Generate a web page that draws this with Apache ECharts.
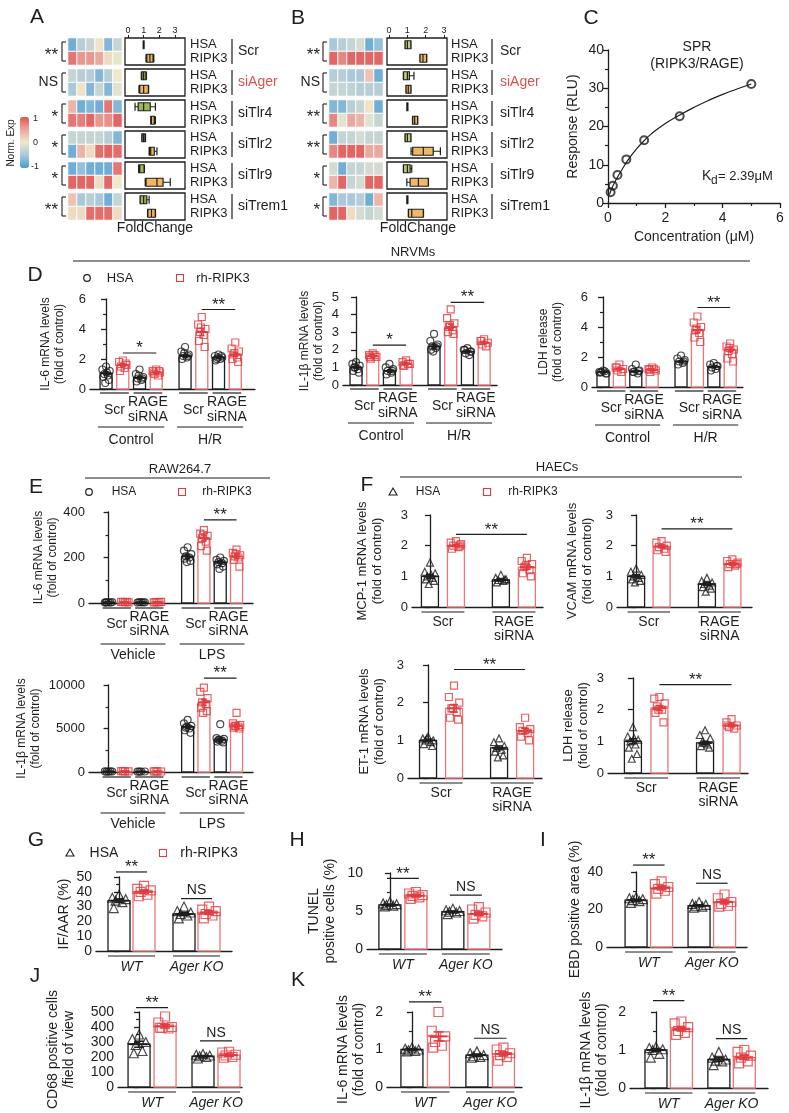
<!DOCTYPE html>
<html><head><meta charset="utf-8">
<script src="https://cdn.jsdelivr.net/npm/echarts/dist/echarts.min.js"></script>
<style>html,body{margin:0;padding:0;background:#fff}#c{width:789px;height:1113px}</style>
</head><body><div id="c"></div>
<script>
const FONT = '"Liberation Sans", Arial, Helvetica, sans-serif';
const INK = '#1e1e1e', RED = '#e23b3f', REDBAR = '#e8777a';

// ---------- Panels A / B ----------
const heatGroups = ['Scr','siAger','siTlr4','siTlr2','siTlr9','siTrem1'];
const heatRowNames = ['HSA','RIPK3'];
const heatCols = ['1','2','3','4','5','6'];
const heatA = [
 [-0.8,-0.4,-0.3,0.05,-0.7,-0.3],[0.8,0.6,0.6,0.5,0.1,-0.05],
 [-0.3,-0.4,-0.4,-0.7,-0.4,0.0],[-0.5,0.05,-0.7,-0.3,-0.7,-0.1],
 [0.4,-0.8,-0.7,-0.8,0.8,-0.7],[0.8,0.75,0.9,0.6,0.65,0.9],
 [-0.3,-0.3,-0.3,-0.3,-0.4,-0.7],[-0.8,0.4,0.1,0.85,0.9,0.85],
 [-0.8,-0.6,-0.8,-0.8,-0.8,0.8],[0.9,0.9,0.9,0.1,0.9,0.0],
 [0.3,-0.5,-0.4,-0.5,-0.8,-0.3],[0.1,0.1,0.85,0.85,0.85,0.1]
];
const heatB = [
 [-0.5,-0.4,-0.3,-0.2,-0.8,-0.6],[0.9,0.7,0.9,0.9,0.9,0.9],
 [-0.4,-0.4,-0.5,-0.5,0.3,-0.8],[-0.3,-0.3,-0.35,-0.4,-0.4,-0.4],
 [-0.7,-0.7,-0.4,-0.3,0.05,-0.8],[0.7,-0.1,0.5,0.4,-0.1,-0.3],
 [-0.8,-0.3,-0.3,-0.2,-0.3,-0.3],[0.7,0.9,0.9,0.9,0.5,0.5],
 [-0.2,-0.8,-0.3,-0.3,-0.2,-0.2],[0.4,0.9,-0.3,-0.2,0.9,0.9],
 [-0.7,-0.5,-0.5,-0.4,-0.8,0.4],[0.9,0.9,0.1,-0.2,-0.3,-0.2]
];
const sigA = ['**','NS','*','*','*','**'];
const sigB = ['**','NS','**','**','*','*'];
const boxA = [
 [[0.97,0.98,1.0,1.02,1.03],[1.15,1.2,1.4,1.6,1.65]],
 [[0.85,0.88,1.0,1.15,1.18],[0.7,0.75,1.0,1.3,1.32]],
 [[0.45,0.65,1.0,1.42,1.75],[1.45,1.47,1.5,1.68,1.75]],
 [[0.88,0.9,1.0,1.1,1.12],[1.35,1.37,1.45,1.68,1.85]],
 [[0.68,0.7,0.75,1.03,1.05],[1.1,1.15,1.85,2.24,2.7]],
 [[0.77,0.78,1.0,1.2,1.35],[1.25,1.27,1.5,1.74,1.76]]
];
const boxB = [
 [[0.87,0.88,1.0,1.19,1.2],[1.68,1.69,1.85,2.05,2.06]],
 [[0.78,0.79,1.0,1.11,1.36],[0.92,0.93,1.05,1.19,1.2]],
 [[0.97,0.98,1.0,1.02,1.03],[1.28,1.29,1.4,1.56,1.57]],
 [[0.87,0.88,1.0,1.19,1.2],[1.2,1.29,1.87,2.41,2.8]],
 [[0.78,0.79,1.0,1.15,1.24],[0.97,1.15,1.6,2.14,2.15]],
 [[0.97,0.98,1.0,1.02,1.03],[1.05,1.06,1.24,1.87,1.88]]
];
const foldTicks = [0,1,2,3];

// ---------- Panel C ----------
const sprConc = [0.09,0.17,0.33,0.64,1.26,2.5,5.0];
const sprResp = [2.8,4.5,7.3,11.4,16.4,22.7,31.1];
const fitConc = [0.05,0.1,0.2,0.35,0.5,0.75,1.0,1.25,1.5,2.0,2.5,3.0,3.5,4.0,4.5,5.0];
const fitResp = [2.2,3.2,4.9,7.0,8.9,11.8,14.2,16.2,18.0,20.8,23.0,25.0,26.8,28.4,29.8,31.1];

// ---------- Panel D (NRVMs) ----------
const D1_mean = [1.05,1.6,0.75,1.1,2.2,3.8,2.1,2.3];
const D1_sem  = [0.1,0.1,0.08,0.05,0.08,0.25,0.05,0.12];
const D1_pts = [[1.5,1.3,1.2,1.0,0.9,0.8,0.6,0.4,1.1],[1.9,1.8,1.6,1.5,1.4,1.2,1.7],[1.3,1.0,0.8,0.7,0.6,0.5,0.7,0.9],[1.3,1.2,1.1,1.0,0.9,1.1,1.2],
 [2.8,2.5,2.3,2.2,2.1,2.0,2.2,2.4],[4.8,4.3,4.0,3.8,3.6,3.2,2.8,4.1],[2.3,2.2,2.1,2.0,2.0,1.9,2.2,2.1],[3.1,2.7,2.5,2.3,2.1,2.0,1.8,2.4]];
const D2_mean = [1.0,1.65,0.8,1.2,2.2,3.3,1.9,2.4];
const D2_sem  = [0.06,0.06,0.06,0.05,0.1,0.15,0.06,0.06];
const D2_pts = [[1.3,1.2,1.1,1.0,0.9,0.8,0.7,1.0],[1.8,1.7,1.6,1.5,1.7,1.6],[1.2,1.0,0.9,0.8,0.7,0.6,0.8],[1.4,1.3,1.2,1.1,1.2,1.1],
 [2.9,2.5,2.3,2.2,2.1,2.0,2.2,1.9],[4.3,3.8,3.5,3.3,3.1,3.0,2.9,3.4],[2.1,2.0,1.9,1.8,1.7,2.0,1.9],[2.6,2.5,2.4,2.3,2.2,2.5]];
const D3_mean = [1.0,1.2,1.05,1.15,1.7,3.8,1.35,2.5];
const D3_sem  = [0.03,0.06,0.05,0.04,0.06,0.2,0.05,0.15];
const D3_pts = [[1.1,1.0,0.9,1.0,1.05,0.95,0.9],[1.5,1.3,1.2,1.1,1.0,1.3],[1.5,1.2,1.1,1.0,0.9,1.0,1.05],[1.3,1.2,1.1,1.0,1.2,1.15],
 [2.1,1.9,1.8,1.7,1.6,1.5,1.7],[4.7,4.3,4.0,3.8,3.6,3.3,3.0,3.9],[1.6,1.5,1.4,1.3,1.2,1.1,1.4],[2.9,2.7,2.5,2.4,2.2,1.9,1.7,2.6]];

// ---------- Panel E (RAW264.7) ----------
const E1_mean = [3,4,3,4,205,285,180,205];
const E1_sem  = [0.3,0.3,0.3,0.3,8,12,6,9];
const E1_pts = [[3,2,4,3,2,3],[4,5,3,4,5],[3,2,3,4,3],[4,3,5,4,4],
 [245,230,215,205,200,195,185,180],[320,305,295,285,270,250,230,300],[200,190,185,180,175,170,160,150],[235,220,210,205,200,190,160,215]];
const E2_mean = [60,80,50,70,5200,8000,3700,5300];
const E2_sem  = [5,5,5,5,180,350,200,180];
const E2_pts = [[50,70,60,40,80],[80,100,70,90],[50,40,60,50],[70,80,60,70],
 [6000,5600,5300,5100,5000,4800,4500,5200],[9700,9200,8500,8000,7800,7400,7000,6800],[5500,3900,3800,3700,3600,3500,3400,3700],[6800,5600,5400,5300,5200,5100,5000,5300]];

// ---------- Panel F (HAECs) ----------
const F1_mean = [1.0,2.0,0.88,1.3], F1_sem = [0.06,0.03,0.03,0.07];
const F1_pts = [[1.45,1.15,1.1,1.0,0.95,0.9,0.85,0.75,1.05],[2.15,2.1,2.05,2.0,1.95,1.9,2.0],[1.05,0.95,0.9,0.88,0.85,0.8,0.9],[1.6,1.5,1.4,1.3,1.2,1.1,1.0,1.35]];
const F2_mean = [1.0,1.97,0.75,1.4], F2_sem = [0.05,0.04,0.05,0.04];
const F2_pts = [[1.25,1.15,1.05,1.0,0.95,0.9,0.85,0.8],[2.15,2.1,2.0,1.95,1.9,1.85,1.8],[0.95,0.85,0.8,0.75,0.7,0.65,0.6,0.5],[1.55,1.5,1.45,1.4,1.35,1.3,1.4]];
const F3_mean = [1.0,1.85,0.8,1.25], F3_sem = [0.03,0.1,0.05,0.07];
const F3_pts = [[1.1,1.05,1.0,1.0,0.95,0.9,0.85,1.05],[2.45,2.15,2.0,1.85,1.75,1.6,1.55,1.85],[1.05,0.95,0.85,0.8,0.75,0.7,0.6,0.55],[1.6,1.35,1.3,1.25,1.2,1.1,1.0]];
const F4_mean = [1.0,2.05,0.95,1.5], F4_sem = [0.08,0.08,0.05,0.04];
const F4_pts = [[1.45,1.15,1.05,1.0,0.9,0.8,0.6,0.45,1.1],[2.4,2.35,2.2,2.1,2.0,1.9,1.6,2.0],[1.35,1.2,1.1,1.0,0.9,0.85,0.8,0.95],[1.7,1.6,1.5,1.45,1.4,1.5]];

// ---------- Panels G-K (in vivo) ----------
const G_mean = [34,40,25,26], G_sem = [1.2,1.2,1.0,1.2];
const G_pts = [[38,36,35,34,33,29],[44,42,41,40,38,37],[30,27,26,25,24,22],[30,28,27,25,24,22]];
const H_mean = [5.8,7.0,4.9,4.6], H_sem = [0.1,0.15,0.1,0.2];
const H_pts = [[6.2,6.0,5.9,5.8,5.7,5.6],[7.5,7.3,7.1,7.0,6.8,6.6],[5.3,5.1,5.0,4.9,4.8,4.6],[5.5,5.2,4.8,4.5,4.3,4.0]];
const I_mean = [25,31.5,22,24], I_sem = [0.5,1.0,0.5,1.0];
const I_pts = [[26.5,26,25.5,25,24.5,23.5],[35,33.5,32,31,30,28.5],[24,23,22.5,22,21.5,21],[28,26,24,23,22,21.5]];
const J_mean = [285,405,205,212], J_sem = [20,12,5,8];
const J_pts = [[350,320,300,280,240,225],[470,430,400,395,390,395],[220,215,210,205,200,190],[235,230,215,210,200,195]];
const K1_mean = [1.0,1.35,0.85,0.88], K1_sem = [0.02,0.12,0.03,0.05];
const K1_pts = [[1.05,1.02,1.0,0.98,0.96,0.95],[2.0,1.5,1.35,1.2,1.1,1.05],[0.95,0.9,0.85,0.82,0.8,0.78],[1.05,1.0,0.9,0.85,0.8,0.7]];
const K2_mean = [1.0,1.55,0.75,0.8], K2_sem = [0.04,0.05,0.05,0.05];
const K2_pts = [[1.08,1.05,1.02,1.0,0.9,0.8],[1.75,1.7,1.6,1.5,1.45,1.4],[0.95,0.8,0.75,0.72,0.7,0.6],[1.0,0.95,0.85,0.8,0.7,0.65]];

// category labels
const pairsSiRNA8 = [[0,1,'Scr'],[2,3,'RAGE\nsiRNA'],[4,5,'Scr'],[6,7,'RAGE\nsiRNA']];
const condsHR = [[0,3,'Control'],[4,7,'H/R']];
const condsLPS = [[0,3,'Vehicle'],[4,7,'LPS']];
const pairsSiRNA4 = [[0,1,'Scr'],[2,3,'RAGE\nsiRNA']];
const pairsGeno = [[0,1,'WT'],[2,3,'Ager KO']];

// ================= build ===================
const option = {animation:false, backgroundColor:'#fff', textStyle:{fontFamily:FONT},
  grid:[], xAxis:[], yAxis:[], series:[], graphic:[], visualMap:[]};
const G = option.graphic;
function T(x,y,text,o){o=o||{};return {type:'text',x:x,y:y,rotation:o.rot||0,silent:true,z:10,
  style:{text:text,fill:o.color||INK,fontSize:o.fs||13,fontFamily:FONT,fontStyle:o.italic?'italic':'normal',
  align:o.align||'center',verticalAlign:o.va||'middle',textAlign:o.align||'center',textVerticalAlign:o.va||'middle',lineHeight:o.lh||undefined}};}
function Ln(x1,y1,x2,y2,w,col){return {type:'line',silent:true,z:10,shape:{x1:x1,y1:y1,x2:x2,y2:y2},style:{stroke:col||INK,lineWidth:w||1.2}};}
function symCircle(x,y){return {type:'circle',silent:true,z:10,shape:{cx:x,cy:y,r:3.3},style:{fill:'none',stroke:INK,lineWidth:1.2}};}
function symRect(x,y){return {type:'rect',silent:true,z:10,shape:{x:x-3.5,y:y-3.5,width:7,height:7},style:{fill:'none',stroke:RED,lineWidth:1.1}};}
function symTri(x,y){return {type:'polygon',silent:true,z:10,shape:{points:[[x,y-4],[x+4,y+3],[x-4,y+3]]},style:{fill:'none',stroke:INK,lineWidth:1.1}};}

const heatSeriesIdx = [];
const groupTops = [38,69,100,131,162,193], GH = 27;

function buildHeatPanel(heat, boxes, sigs, L) {
  groupTops.forEach((top,g)=>{
    let gi = option.grid.length;
    option.grid.push({left:L.heatL, top:top, width:L.heatW, height:GH});
    option.xAxis.push({gridIndex:gi,type:'category',data:heatCols,show:false});
    option.yAxis.push({gridIndex:gi,type:'category',data:heatRowNames,inverse:true,show:false});
    const hd = [];
    [0,1].forEach(r=>heat[g*2+r].forEach((v,c)=>hd.push([c,r,v])));
    heatSeriesIdx.push(option.series.length);
    option.series.push({type:'heatmap',xAxisIndex:gi,yAxisIndex:gi,data:hd,silent:true,
      itemStyle:{borderColor:'#fff',borderWidth:1}});
    gi = option.grid.length;
    option.grid.push({left:L.boxL, top:top, width:L.boxW, height:GH, show:true, borderColor:INK, borderWidth:1.3, backgroundColor:'rgba(0,0,0,0)'});
    const first = g===0;
    option.xAxis.push({gridIndex:gi,type:'value',min:L.xmin,max:L.xmax,position:'top',
      axisLine:{show:false},splitLine:{show:false},
      axisTick:{show:first,length:3,customValues:foldTicks,lineStyle:{color:INK}},
      axisLabel:{show:first,fontSize:9,margin:3,color:INK,customValues:foldTicks}});
    option.yAxis.push({gridIndex:gi,type:'category',data:heatRowNames,inverse:true,show:false});
    option.series.push({type:'boxplot',xAxisIndex:gi,yAxisIndex:gi,silent:true,boxWidth:[8,8],
      data:[{value:boxes[g][0],itemStyle:{color:L.hsaFill,borderColor:INK,borderWidth:1.2}},
            {value:boxes[g][1],itemStyle:{color:L.ripFill,borderColor:INK,borderWidth:1.2}}]});
    G.push(T(L.labX, top+6, 'HSA', {align:'left',fs:13}));
    G.push(T(L.labX, top+20, 'RIPK3', {align:'left',fs:13}));
    G.push(Ln(L.vx, top+1, L.vx, top+26, 1.2));
    G.push(T(L.nameX, top+13.5, heatGroups[g], {align:'left',fs:14,color:heatGroups[g]==='siAger'?'#d9534f':INK}));
    const s = sigs[g];
    G.push(T(L.starX, top+13.5+(s==='NS'?0:4), s, {align:'right',fs:s==='NS'?14:17}));
    G.push(Ln(L.bx, top+4, L.bx, top+23, 1.1));
    G.push(Ln(L.bx, top+4, L.bx+4, top+4, 1.1));
    G.push(Ln(L.bx, top+23, L.bx+4, top+23, 1.1));
  });
  G.push(T(L.foldX, 228, 'FoldChange', {fs:14}));
}
buildHeatPanel(heatA, boxA, sigA, {heatL:68,heatW:54,boxL:125,boxW:60,xmin:-0.19,xmax:3.64,labX:190,vx:232,nameX:238,starX:58,bx:62,hsaFill:'#9dba52',ripFill:'#f2b65e',foldX:155});
buildHeatPanel(heatB, boxB, sigB, {heatL:329,heatW:54,boxL:387,boxW:60,xmin:-0.11,xmax:3.16,labX:451,vx:492,nameX:500,starX:320,bx:323,hsaFill:'#c3cc78',ripFill:'#f0b866',foldX:418});

option.visualMap.push({type:'continuous',min:-1,max:1,seriesIndex:heatSeriesIdx,show:true,calculable:false,
  orient:'vertical',left:20,top:117,itemWidth:9,itemHeight:51,padding:0,text:null,showLabel:false,
  inRange:{color:['#4a9cd3','#a9c8da','#efe8cc','#eba89e','#df5656']}});
G.push(T(33,119,'1',{align:'left',fs:9}));
G.push(T(33,143,'0',{align:'left',fs:9}));
G.push(T(31,167,'-1',{align:'left',fs:9}));
G.push(T(11,143,'Norm. Exp',{fs:10,rot:Math.PI/2}));

// Panel C
(function(){
  const gi = option.grid.length;
  option.grid.push({left:608,top:50,width:172,height:153});
  const ax = {axisLine:{show:true,lineStyle:{color:INK,width:1.3}},axisTick:{show:true,length:5,lineStyle:{color:INK,width:1.3}},
    minorTick:{show:true,splitNumber:2,length:3,lineStyle:{color:INK,width:1.2}},splitLine:{show:false},minorSplitLine:{show:false}};
  option.xAxis.push(Object.assign({gridIndex:gi,type:'value',min:0,max:6,interval:2,
    axisLabel:{fontSize:14,color:INK,margin:8},name:'Concentration (μM)',nameLocation:'middle',nameGap:27,
    nameTextStyle:{fontSize:14,color:INK}},ax));
  option.yAxis.push(Object.assign({gridIndex:gi,type:'value',min:0,max:40,interval:10,
    axisLabel:{fontSize:14,color:INK,margin:4},name:'Response (RLU)',nameLocation:'middle',nameRotate:90,nameGap:28,
    nameTextStyle:{fontSize:14,color:INK}},ax));
  option.series.push({type:'line',xAxisIndex:gi,yAxisIndex:gi,smooth:true,symbol:'none',silent:true,
    data:fitConc.map((x,i)=>[x,fitResp[i]]),lineStyle:{color:INK,width:1.2}});
  option.series.push({type:'scatter',xAxisIndex:gi,yAxisIndex:gi,silent:true,symbol:'circle',symbolSize:8,
    data:sprConc.map((x,i)=>[x,sprResp[i]]),itemStyle:{color:'rgba(0,0,0,0)',borderColor:INK,borderWidth:2}});
  G.push(T(697,47,'SPR',{fs:14}));
  G.push(T(697,64,'(RIPK3/RAGE)',{fs:14}));
  G.push(T(702,176,'K',{fs:14,align:'left'}));
  G.push(T(711,181,'d',{fs:12,align:'left'}));
  G.push(T(718,176,'= 2.39μM',{fs:13,align:'left'}));
})();

// generic bar panel
const JIT = [0,-0.9,0.9,-0.45,0.45,-0.7,0.7,-0.2,0.2];
const STYLES = {
  D:{fs:13,nfs:12,sym:'circle',ps:7,pdy:4,pty:21,pva:'middle',plh:15,pfs:14,cdy:38,cty:51,sigExt:0,italic:false},
  E:{fs:13,nfs:12,sym:'circle',ps:7,pdy:5,pty:21,pva:'middle',plh:14,pfs:14,cdy:41,cty:52,sigExt:0,italic:false},
  F:{fs:13,nfs:13,sym:'triangle',ps:7,pdy:5,pty:8,pva:'top',plh:14,pfs:14,sigExt:0,italic:false},
  G:{fs:14,nfs:14,sym:'triangle',ps:9,pdy:5,pty:16,pva:'middle',plh:14,pfs:14,sigExt:3,italic:true}
};
function addBarPanel(c){
  const st = STYLES[c.style];
  const gi = option.grid.length;
  option.grid.push({left:c.L,top:c.T,width:c.R-c.L,height:c.B-c.T});
  option.xAxis.push({gridIndex:gi,type:'value',min:c.xmin,max:c.xmax,
    axisLine:{show:true,onZero:false,lineStyle:{color:INK,width:1.3}},axisTick:{show:false},axisLabel:{show:false},splitLine:{show:false}});
  option.yAxis.push({gridIndex:gi,type:'value',min:0,max:c.ymax,interval:c.interval,
    axisLine:{show:true,lineStyle:{color:INK,width:1.3}},
    axisTick:{show:true,length:5,lineStyle:{color:INK,width:1.3}},
    minorTick:{show:!!c.minor,splitNumber:c.minor||2,length:3,lineStyle:{color:INK,width:1.2}},
    splitLine:{show:false},minorSplitLine:{show:false},
    axisLabel:{fontSize:st.fs,color:INK,margin:4,formatter:v=>String(v)},
    name:c.yName,nameLocation:'middle',nameRotate:90,nameGap:c.nameGap,
    nameTextStyle:{fontSize:st.nfs,color:INK,lineHeight:st.nfs+2}});
  const half = c.mean.length/2;
  const pos = i => (i%half) + Math.floor(i/half)*(half-1+c.gap);
  const pxu = (c.R-c.L)/(c.xmax-c.xmin);
  const bw = c.bw;
  option.series.push({type:'custom',xAxisIndex:gi,yAxisIndex:gi,z:2,silent:true,
    data:c.mean.map((m,i)=>[pos(i),m,i%2]),
    renderItem:function(p,api){const x=api.value(0),m=api.value(1),r=api.value(2);
      const t=api.coord([x,m]),b=api.coord([x,0]);
      return {type:'rect',shape:{x:t[0]-bw/2,y:t[1],width:bw,height:b[1]-t[1]},style:{fill:'#fff',stroke:r?REDBAR:INK,lineWidth:1.3}};}});
  const amp = bw*0.34/pxu;
  [0,1].forEach(s=>{
    const data=[];
    c.pts.forEach((arr,i)=>{ if(i%2!==s) return; arr.forEach((v,k)=>data.push([pos(i)+JIT[k%JIT.length]*amp,v])); });
    option.series.push({type:'scatter',xAxisIndex:gi,yAxisIndex:gi,z:3,silent:true,data:data,
      symbol:s?'rect':st.sym,symbolSize:st.ps,
      itemStyle:{color:'rgba(0,0,0,0)',borderColor:s?RED:INK,borderWidth:1.2}});
  });
  option.series.push({type:'custom',xAxisIndex:gi,yAxisIndex:gi,z:4,silent:true,
    data:c.mean.map((m,i)=>[pos(i),m,c.sem[i],i%2]),
    renderItem:function(p,api){const x=api.value(0),m=api.value(1),e=api.value(2),r=api.value(3);
      const col=r?RED:INK;
      const cm=api.coord([x,m]),lo=api.coord([x,m-e]),hi=api.coord([x,m+e]);
      const mw=bw*0.8,cw=bw*0.45;
      return {type:'group',children:[
        {type:'line',shape:{x1:cm[0]-mw/2,y1:cm[1],x2:cm[0]+mw/2,y2:cm[1]},style:{stroke:col,lineWidth:2}},
        {type:'line',shape:{x1:cm[0],y1:lo[1],x2:cm[0],y2:hi[1]},style:{stroke:col,lineWidth:1.6}},
        {type:'line',shape:{x1:cm[0]-cw/2,y1:lo[1],x2:cm[0]+cw/2,y2:lo[1]},style:{stroke:col,lineWidth:1.6}},
        {type:'line',shape:{x1:cm[0]-cw/2,y1:hi[1],x2:cm[0]+cw/2,y2:hi[1]},style:{stroke:col,lineWidth:1.6}}]};}});
  option.series.push({type:'custom',xAxisIndex:gi,yAxisIndex:gi,z:5,silent:true,clip:false,data:[[0,0]],
    renderItem:function(p,api){
      const ch=[];
      const base=api.coord([pos(0),0])[1];
      const X=i=>api.coord([pos(i),0])[0];
      const txt=(x,y,t,o)=>({type:'text',style:{text:t,x:x,y:y,fill:INK,fontSize:o.fs,fontFamily:FONT,fontStyle:o.italic?'italic':'normal',
        align:'center',textAlign:'center',verticalAlign:o.va,textVerticalAlign:o.va,lineHeight:o.lh}});
      const ln=(x1,y1,x2,y2)=>({type:'line',shape:{x1:x1,y1:y1,x2:x2,y2:y2},style:{stroke:INK,lineWidth:1.2}});
      (c.sig||[]).forEach(s=>{
        const y=api.coord([pos(0),s[2]])[1];
        const x1=X(s[0])-st.sigExt,x2=X(s[1])+st.sigExt;
        ch.push(ln(x1,y,x2,y));
        const star=s[3].indexOf('*')>=0;
        ch.push(txt((x1+x2)/2,star?y+4:y-1,s[3],{fs:star?17:14,va:'bottom',lh:star?17:14}));
      });
      (c.pairs||[]).forEach(pr=>{
        const x1=X(pr[0])-bw/2,x2=X(pr[1])+bw/2;
        ch.push(ln(x1,base+st.pdy,x2,base+st.pdy));
        ch.push(txt((x1+x2)/2,base+st.pty,pr[2],{fs:st.pfs,va:st.pva,lh:st.plh,italic:st.italic}));
      });
      (c.conds||[]).forEach(cd=>{
        const x1=X(cd[0])-bw/2-2,x2=X(cd[1])+bw/2+2;
        ch.push(ln(x1,base+st.cdy,x2,base+st.cdy));
        ch.push(txt((x1+x2)/2,base+st.cty,cd[2],{fs:14,va:'middle',lh:14}));
      });
      return {type:'group',children:ch};
    }});
}

const IL6 = 'IL-6 mRNA levels\n(fold of control)';
const IL1B = 'IL-1β mRNA levels\n(fold of control)';
const LDH = 'LDH release\n(fold of control)';
[
 {style:'D',mean:D1_mean,sem:D1_sem,pts:D1_pts,yName:IL6,ymax:6,interval:2,minor:2,sig:[[1,3,2.4,'*'],[5,7,5.3,'**']],pairs:pairsSiRNA8,conds:condsHR,
  L:90,R:255,T:299,B:389,xmin:-0.96,xmax:8.9,gap:1.72,bw:12,nameGap:23},
 {style:'D',mean:D2_mean,sem:D2_sem,pts:D2_pts,yName:IL1B,ymax:5,interval:1,minor:0,sig:[[1,3,2.27,'*'],[5,7,4.7,'**']],pairs:pairsSiRNA8,conds:condsHR,
  L:343,R:497,T:297,B:385,xmin:-0.78,xmax:8.44,gap:1.67,bw:12,nameGap:17},
 {style:'D',mean:D3_mean,sem:D3_sem,pts:D3_pts,yName:LDH,ymax:6,interval:2,minor:2,sig:[[5,7,5.3,'**']],pairs:pairsSiRNA8,conds:condsHR,
  L:592,R:743,T:297,B:387,xmin:-0.67,xmax:8.54,gap:1.76,bw:12,nameGap:27},
 {style:'E',mean:E1_mean,sem:E1_sem,pts:E1_pts,yName:IL6,ymax:400,interval:200,minor:2,sig:[[5,7,365,'**']],pairs:pairsSiRNA8,conds:condsLPS,
  L:89,R:253,T:512,B:603,xmin:-1.2,xmax:8.86,gap:1.85,bw:12,nameGap:24},
 {style:'E',mean:E2_mean,sem:E2_sem,pts:E2_pts,yName:IL1B,ymax:10000,interval:5000,minor:2,sig:[[5,7,10800,'**']],pairs:pairsSiRNA8,conds:condsLPS,
  L:89,R:253,T:685,B:772,xmin:-1.2,xmax:8.86,gap:1.85,bw:12,nameGap:46},
 {style:'F',mean:F1_mean,sem:F1_sem,pts:F1_pts,yName:'MCP-1 mRNA levels\n(fold of control)',ymax:3,interval:1,minor:0,sig:[[1,3,2.37,'**']],pairs:pairsSiRNA4,
  L:412,R:543,T:515,B:607,xmin:-0.69,xmax:4.35,gap:1.73,bw:17,nameGap:27},
 {style:'F',mean:F2_mean,sem:F2_sem,pts:F2_pts,yName:'VCAM mRNA levels\n(fold of control)',ymax:3,interval:1,minor:0,sig:[[1,3,2.55,'**']],pairs:pairsSiRNA4,
  L:617,R:752,T:515,B:607,xmin:-0.75,xmax:4.55,gap:1.78,bw:17,nameGap:22},
 {style:'F',mean:F3_mean,sem:F3_sem,pts:F3_pts,yName:'ET-1 mRNA levels\n(fold of control)',ymax:3,interval:1,minor:0,sig:[[1,3,2.88,'**']],pairs:pairsSiRNA4,
  L:408,R:542,T:665,B:778,xmin:-0.77,xmax:4.38,gap:1.73,bw:17,nameGap:21},
 {style:'F',mean:F4_mean,sem:F4_sem,pts:F4_pts,yName:LDH,ymax:3,interval:1,minor:0,sig:[[1,3,2.79,'**']],pairs:pairsSiRNA4,
  L:608,R:748,T:678,B:773,xmin:-0.94,xmax:4.34,gap:1.72,bw:17,nameGap:17},
 {style:'G',mean:G_mean,sem:G_sem,pts:G_pts,yName:'IF/AAR (%)',ymax:50,interval:10,minor:2,sig:[[0,1,53.4,'**'],[2,3,35.4,'NS']],pairs:pairsGeno,
  L:96,R:232,T:877,B:951,xmin:-0.92,xmax:4.52,gap:1.6,bw:22,nameGap:24},
 {style:'G',mean:H_mean,sem:H_sem,pts:H_pts,yName:'TUNEL\npositive cells (%)',ymax:10,interval:5,minor:2,sig:[[0,1,9.3,'**'],[2,3,7.1,'NS']],pairs:pairsGeno,
  L:367,R:502,T:873,B:949,xmin:-0.88,xmax:4.31,gap:1.42,bw:22,nameGap:29},
 {style:'G',mean:I_mean,sem:I_sem,pts:I_pts,yName:'EBD positive area (%)',ymax:40,interval:20,minor:2,sig:[[0,1,43.7,'**'],[2,3,34,'NS']],pairs:pairsGeno,
  L:607,R:747,T:872,B:947,xmin:-1.14,xmax:4.35,gap:1.47,bw:22,nameGap:22},
 {style:'G',mean:J_mean,sem:J_sem,pts:J_pts,yName:'CD68 positive cells\n/field of view',ymax:500,interval:100,minor:2,sig:[[0,1,529,'**'],[2,3,308,'NS']],pairs:pairsGeno,
  L:118,R:242,T:1012,B:1087,xmin:-0.81,xmax:3.96,gap:1.46,bw:22,nameGap:41},
 {style:'G',mean:K1_mean,sem:K1_sem,pts:K1_pts,yName:IL6,ymax:2,interval:1,minor:2,sig:[[0,1,2.27,'**'],[2,3,1.3,'NS']],pairs:pairsGeno,
  L:387,R:522,T:1012,B:1087,xmin:-0.94,xmax:4.15,gap:1.45,bw:22,nameGap:20},
 {style:'G',mean:K2_mean,sem:K2_sem,pts:K2_pts,yName:IL1B,ymax:2,interval:1,minor:2,sig:[[0,1,2.3,'**'],[2,3,1.3,'NS']],pairs:pairsGeno,
  L:630,R:768,T:1012,B:1088,xmin:-1.02,xmax:4.4,gap:1.47,bw:22,nameGap:20}
].forEach(addBarPanel);

// panel letters
[['A',37,17],['B',298,18],['C',591,18],['D',35,275],['E',36,487],['F',367,485],['G',36,840],['H',297,840],['I',543,840],['J',35,976],['K',298,980]]
 .forEach(l=>G.push(T(l[1],l[2],l[0],{fs:21})));
// headers
G.push(T(413,252,'NRVMs',{fs:13})); G.push(Ln(73,261,750,261,1.2));
G.push(T(180,469,'RAW264.7',{fs:13})); G.push(Ln(85,478,270,478,1.2));
G.push(T(557,467,'HAECs',{fs:13})); G.push(Ln(400,477,742,477,1.2));
// legends
G.push(symCircle(87,278)); G.push(T(120,278,'HSA',{fs:13})); G.push(symRect(180,278)); G.push(T(223,278,'rh-RIPK3',{fs:13}));
G.push(symCircle(89,492)); G.push(T(124,492,'HSA',{fs:12})); G.push(symRect(182,492)); G.push(T(227,492,'rh-RIPK3',{fs:12}));
G.push(symTri(393,492)); G.push(T(428,492,'HSA',{fs:12})); G.push(symRect(487,492)); G.push(T(533,492,'rh-RIPK3',{fs:12}));
G.push(symTri(70,853)); G.push(T(104,853,'HSA',{fs:14})); G.push(symRect(163,853)); G.push(T(209,853,'rh-RIPK3',{fs:14}));

const chart = echarts.init(document.getElementById('c'), null, {renderer:'canvas'});
chart.setOption(option);
</script></body></html>
